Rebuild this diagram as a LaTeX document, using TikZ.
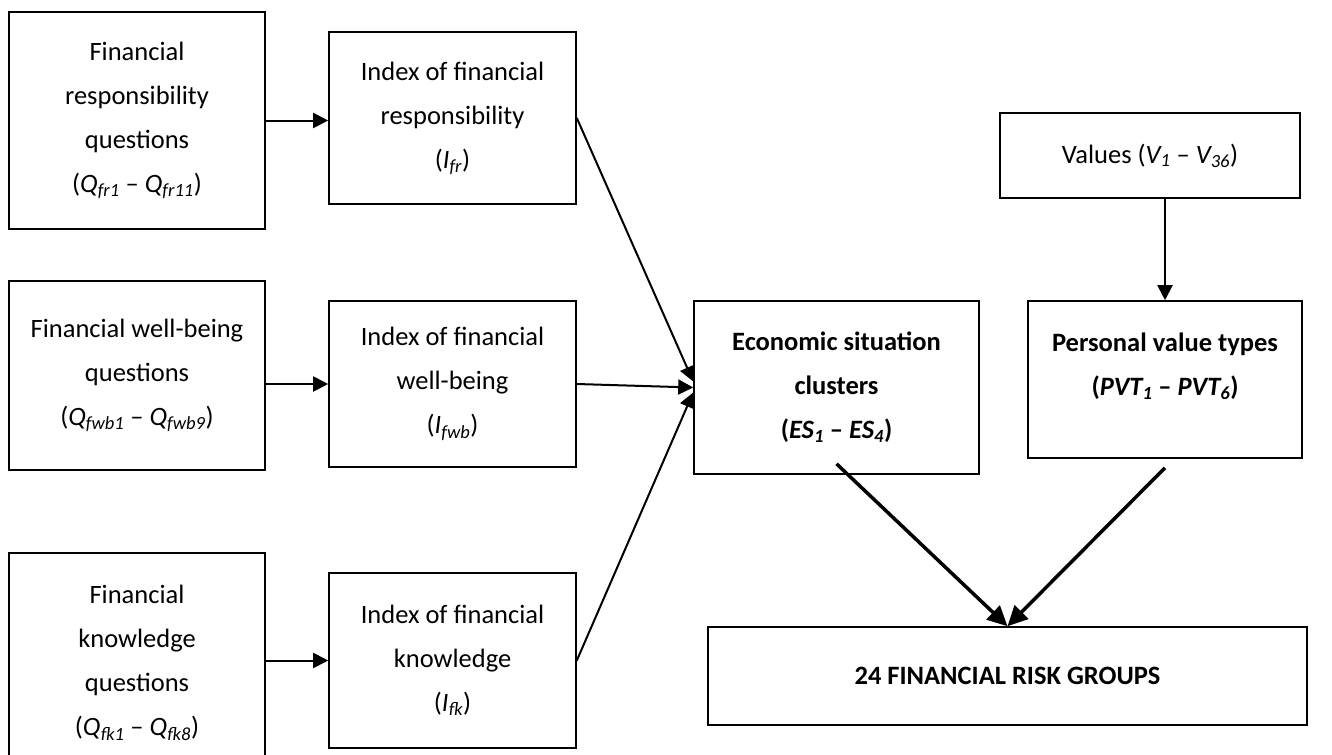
\documentclass[tikz,border=0pt]{standalone}
\usepackage{fontspec}
\setmainfont{Carlito}
\usetikzlibrary{arrows.meta}

\newcommand{\vsub}[2]{\textit{#1\textsubscript{#2}}}

\begin{document}
\begin{tikzpicture}[x=1bp,y=-1bp,
    strong/.style={font=\fontsize{26.5bp}{44bp}\selectfont\bfseries}]

      \useasboundingbox (0,0) rectangle (1332,754);
      \clip (0,0) rectangle (1332,754);

      \begin{scope}[every node/.style={draw,line width=1.6bp,inner sep=0pt,align=center,
          font=\fontsize{26.5bp}{44bp}\selectfont}]
        \node[minimum width=256bp,minimum height=217bp] (qfr)  at (137,120.5)
          {Financial\\responsibility\\questions\\(\vsub{Q}{fr1} – \vsub{Q}{fr11})};
        \node[minimum width=256bp,minimum height=189bp] (qfwb) at (137,375.5)
          {Financial well-being\\questions\\(\vsub{Q}{fwb1} – \vsub{Q}{fwb9})};
        \node[minimum width=256bp,minimum height=220bp] (qfk)  at (137,663)
          {Financial\\knowledge\\questions\\(\vsub{Q}{fk1} – \vsub{Q}{fk8})};
        \node[minimum width=247bp,minimum height=172bp] (ifr)  at (452.5,118)
          {Index of financial\\responsibility\\(\vsub{I}{fr})};
        \node[minimum width=247bp,minimum height=166bp] (ifwb) at (452.5,384)
          {Index of financial\\well-being\\(\vsub{I}{fwb})};
        \node[minimum width=247bp,minimum height=175bp] (ifk)  at (452.5,660.5)
          {Index of financial\\knowledge\\(\vsub{I}{fk})};
        \node[strong,minimum width=285bp,minimum height=173bp] (es) at (836.5,387.5)
          {Economic situation\\clusters\\(\vsub{ES}{1} – \vsub{ES}{4})};
        \node[minimum width=300bp,minimum height=85bp]  (val)  at (1150,155.5)
          {Values (\vsub{V}{1} – \vsub{V}{36})};
        \node[strong,minimum width=274bp,minimum height=157bp,text depth=30bp] (pvt) at (1165,379.5)
          {Personal value types\\(\vsub{PVT}{1} – \vsub{PVT}{6})};
        \node[strong,minimum width=599bp,minimum height=98bp] (risk) at (1007.5,676)
          {24 FINANCIAL RISK GROUPS};
      \end{scope}

      \begin{scope}[every edge/.style={draw,line width=2bp,-{Triangle[length=15bp,width=15bp]}}]
        \path (qfr.east)              edge (qfr.east -| ifr.west);
        \path (ifwb.west -| qfwb.east) edge (ifwb.west);
        \path (ifk.west -| qfk.east)   edge (ifk.west);
        \path (ifr.east)  edge ([yshift=6bp]es.west);
        \path (ifwb.east) edge (es.west);
        \path (ifk.east)  edge ([yshift=-5bp]es.west);
        \path (val.south -| pvt.north) edge (pvt.north);
      \end{scope}

      \begin{scope}[every edge/.style={draw,line width=3.5bp,-{Triangle[length=20bp,width=19bp]}}]
        \path ([yshift=11bp]es.south) edge (risk.north);
        \path ([yshift=-9bp]pvt.south) edge (risk.north);
      \end{scope}

    \end{tikzpicture}
\end{document}
